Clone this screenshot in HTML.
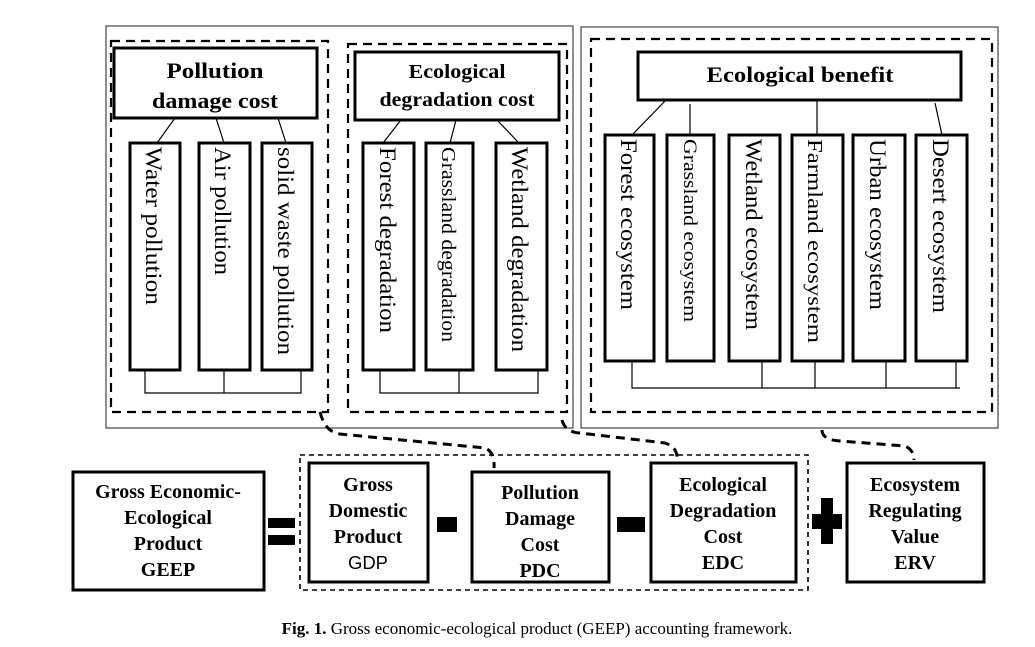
<!DOCTYPE html>
<html><head><meta charset="utf-8"><style>
html,body{margin:0;padding:0;background:#fff;width:1035px;height:647px;overflow:hidden}
svg{display:block}
text{font-family:"Liberation Serif",serif;fill:#000}
.b{font-weight:bold}
</style></head><body>
<svg width="1035" height="647" viewBox="0 0 1035 647" xmlns="http://www.w3.org/2000/svg">
<g fill="none" stroke="#000">
<rect x="106" y="26" width="467" height="402" stroke="#444" stroke-width="1.2"/>
<rect x="581" y="27" width="417" height="401" stroke="#444" stroke-width="1.2"/>
<g stroke-width="2.2" stroke-dasharray="9,6">
<rect x="111" y="41" width="217" height="371"/>
<rect x="348" y="44" width="219" height="368"/>
<rect x="591" y="39" width="401" height="373"/>
<rect x="300" y="455" width="508" height="135" stroke-width="1.6" stroke-dasharray="5,4"/>
<path d="M320 412 Q325 432 340 434 L485 448 Q495 452 494 468" stroke-width="3"/>
<path d="M562 420 Q565 432 580 433 L665 443 Q678 447 677 460" stroke-width="3"/>
<path d="M822 430 Q822 440 840 441 L905 446 Q914 450 914 460" stroke-width="3"/>
</g>
<g stroke-width="3">
<rect x="114" y="48" width="203" height="70"/>
<rect x="355" y="52" width="204" height="68"/>
<rect x="638" y="52" width="323" height="48"/>
<rect x="130" y="143" width="50" height="227"/>
<rect x="199" y="143" width="51" height="227"/>
<rect x="262" y="143" width="50" height="227"/>
<rect x="363" y="143" width="51" height="227"/>
<rect x="426" y="143" width="47" height="227"/>
<rect x="496" y="143" width="51" height="227"/>
<rect x="605" y="135" width="49" height="226"/>
<rect x="667" y="135" width="47" height="226"/>
<rect x="729" y="135" width="51" height="226"/>
<rect x="792" y="135" width="51" height="226"/>
<rect x="853" y="135" width="52" height="226"/>
<rect x="916" y="135" width="51" height="226"/>
<rect x="73" y="472" width="191" height="118"/>
<rect x="309" y="463" width="119" height="119"/>
<rect x="472" y="472" width="137" height="110"/>
<rect x="651" y="463" width="145" height="119"/>
<rect x="847" y="463" width="137" height="119"/>
</g>
<g stroke-width="1.2">
<path d="M175 118 L157 143 M216 118 L224 143 M278 118 L286 143"/>
<path d="M145 370 V393 H301 V370 M224 370 V393"/>
<path d="M401 120 L383 143 M456 120 L450 143 M497 120 L519 143"/>
<path d="M380 370 V393 H538 V370 M459 370 V393"/>
<path d="M666 100 L632 135 M690 104 V135 M817 100 V135 M935 103 L942 135"/>
<path d="M632 361 V388 H960 M762 361 V388 M815 361 V388 M886 361 V388 M956 361 V388"/>
</g>
</g>
<rect x="268" y="518" width="27" height="10"/>
<rect x="268" y="535" width="27" height="10"/>
<rect x="437" y="517" width="20" height="15"/>
<rect x="617" y="517" width="28" height="15"/>
<rect x="812" y="514" width="30" height="15"/>
<rect x="821" y="498" width="12" height="46"/>
<text class="b" x="215" y="78" font-size="22" text-anchor="middle" textLength="97" lengthAdjust="spacingAndGlyphs">Pollution</text>
<text class="b" x="215" y="108" font-size="22" text-anchor="middle" textLength="126" lengthAdjust="spacingAndGlyphs">damage cost</text>
<text class="b" x="457" y="78" font-size="20" text-anchor="middle" textLength="97" lengthAdjust="spacingAndGlyphs">Ecological</text>
<text class="b" x="457" y="106" font-size="20" text-anchor="middle" textLength="155" lengthAdjust="spacingAndGlyphs">degradation cost</text>
<text class="b" x="800" y="82" font-size="22" text-anchor="middle" textLength="187" lengthAdjust="spacingAndGlyphs">Ecological benefit</text>
<g font-size="23">
<text transform="translate(146,147) rotate(90)" textLength="158" lengthAdjust="spacingAndGlyphs">Water pollution</text>
<text transform="translate(215,147) rotate(90)" textLength="128" lengthAdjust="spacingAndGlyphs">Air pollution</text>
<text transform="translate(278,147) rotate(90)" textLength="208" lengthAdjust="spacingAndGlyphs">solid waste pollution</text>
<text transform="translate(380,147) rotate(90)" textLength="186" lengthAdjust="spacingAndGlyphs">Forest degradation</text>
<text transform="translate(442,147) rotate(90)" font-size="20" textLength="195" lengthAdjust="spacingAndGlyphs">Grassland degradation</text>
<text transform="translate(512,147) rotate(90)" textLength="205" lengthAdjust="spacingAndGlyphs">Wetland degradation</text>
<text transform="translate(621,139) rotate(90)" textLength="171" lengthAdjust="spacingAndGlyphs">Forest ecosystem</text>
<text transform="translate(684,139) rotate(90)" font-size="19" textLength="183" lengthAdjust="spacingAndGlyphs">Grassland ecosystem</text>
<text transform="translate(746,139) rotate(90)" textLength="191" lengthAdjust="spacingAndGlyphs">Wetland ecosystem</text>
<text transform="translate(808,139) rotate(90)" font-size="21" textLength="204" lengthAdjust="spacingAndGlyphs">Farmland ecosystem</text>
<text transform="translate(870,139) rotate(90)" textLength="171" lengthAdjust="spacingAndGlyphs">Urban ecosystem</text>
<text transform="translate(933,139) rotate(90)" textLength="174" lengthAdjust="spacingAndGlyphs">Desert ecosystem</text>
</g>
<g font-size="20" text-anchor="middle" font-weight="bold">
<text x="168" y="498">Gross Economic-</text>
<text x="168" y="524">Ecological</text>
<text x="168" y="550">Product</text>
<text x="168" y="576">GEEP</text>
<text x="368" y="491">Gross</text>
<text x="368" y="517">Domestic</text>
<text x="368" y="543">Product</text>
<text x="540" y="499">Pollution</text>
<text x="540" y="525">Damage</text>
<text x="540" y="551">Cost</text>
<text x="540" y="577">PDC</text>
<text x="723" y="491">Ecological</text>
<text x="723" y="517">Degradation</text>
<text x="723" y="543">Cost</text>
<text x="723" y="569">EDC</text>
<text x="915" y="491">Ecosystem</text>
<text x="915" y="517">Regulating</text>
<text x="915" y="543">Value</text>
<text x="915" y="569">ERV</text>
</g>
<text x="368" y="569" font-size="18" text-anchor="middle" style="font-family:'Liberation Sans',sans-serif" textLength="40" lengthAdjust="spacingAndGlyphs">GDP</text>
<text x="537" y="634" font-size="17" text-anchor="middle"><tspan font-weight="bold">Fig. 1.</tspan> Gross economic-ecological product (GEEP) accounting framework.</text>
</svg>
</body></html>
